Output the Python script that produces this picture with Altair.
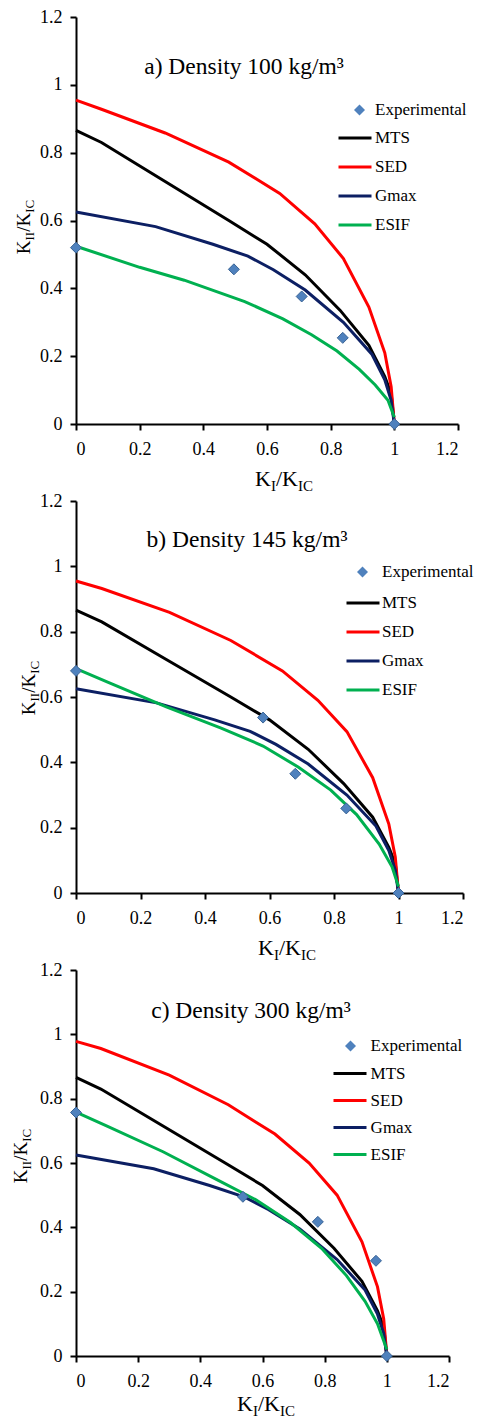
import altair as alt
import pandas as pd

FONT = "Liberation Serif"
TICKS = [0, 0.2, 0.4, 0.6, 0.8, 1, 1.2]
SERIES = ["MTS", "SED", "Gmax", "ESIF"]
COLORS = ["#000000", "#FF0000", "#0C1F63", "#00B050"]
EXP_LABEL = "Experimental"
TITLES = ["a) Density 100 kg/m³", "b) Density 145 kg/m³", "c) Density 300 kg/m³"]

# --- theoretical curves ---
MTS_X = [0, 0.08, 0.28, 0.48, 0.6, 0.72, 0.83, 0.92, 0.97, 0.99, 1]
MTS_Y = [0.866, 0.83, 0.715, 0.6, 0.53, 0.44, 0.335, 0.232, 0.14, 0.09, 0.0]

GMAX_X = [0, 0.25, 0.43, 0.54, 0.62, 0.72, 0.84, 0.93, 0.97, 0.99, 1]
GMAX_Y = [0.625, 0.582, 0.53, 0.495, 0.455, 0.395, 0.3, 0.205, 0.13, 0.07, 0.0]

SED_A_X = [0, 0.08, 0.28, 0.48, 0.64, 0.75, 0.84, 0.92, 0.97, 0.99, 1]
SED_A_Y = [0.955, 0.928, 0.858, 0.772, 0.68, 0.59, 0.488, 0.345, 0.21, 0.11, 0.0]
SED_B_X = [0, 0.08, 0.29, 0.48, 0.64, 0.75, 0.84, 0.92, 0.97, 0.99, 1]
SED_B_Y = [0.955, 0.932, 0.859, 0.773, 0.68, 0.59, 0.494, 0.353, 0.211, 0.11, 0.0]
SED_C_X = [0, 0.08, 0.3, 0.49, 0.64, 0.75, 0.84, 0.92, 0.97, 0.99, 1]
SED_C_Y = [0.978, 0.956, 0.873, 0.781, 0.69, 0.6, 0.5, 0.355, 0.215, 0.115, 0.0]

ESIF_A_X = [0, 0.2, 0.34, 0.53, 0.65, 0.74, 0.82, 0.89, 0.94, 0.98, 1]
ESIF_A_Y = [0.524, 0.462, 0.424, 0.361, 0.31, 0.263, 0.215, 0.161, 0.115, 0.07, 0.02]
ESIF_B_X = [0, 0.1, 0.28, 0.45, 0.58, 0.69, 0.79, 0.87, 0.94, 0.98, 1]
ESIF_B_Y = [0.687, 0.645, 0.57, 0.505, 0.45, 0.385, 0.315, 0.24, 0.15, 0.08, 0.02]
ESIF_C_X = [0, 0.1, 0.28, 0.45, 0.58, 0.69, 0.79, 0.87, 0.93, 0.97, 1]
ESIF_C_Y = [0.758, 0.715, 0.635, 0.55, 0.485, 0.415, 0.335, 0.25, 0.17, 0.1, 0.02]

# --- experimental points ---
EXP_A_X = [0, 0.496, 0.709, 0.838, 1]
EXP_A_Y = [0.52, 0.456, 0.376, 0.254, 0]
EXP_B_X = [0, 0.58, 0.68, 0.838, 1]
EXP_B_Y = [0.68, 0.537, 0.365, 0.259, 0]
EXP_C_X = [0, 0.537, 0.778, 0.965, 1]
EXP_C_Y = [0.757, 0.495, 0.417, 0.296, 0]

CURVES = [
    {"MTS": (MTS_X, MTS_Y), "SED": (SED_A_X, SED_A_Y), "Gmax": (GMAX_X, GMAX_Y), "ESIF": (ESIF_A_X, ESIF_A_Y)},
    {"MTS": (MTS_X, MTS_Y), "SED": (SED_B_X, SED_B_Y), "Gmax": (GMAX_X, GMAX_Y), "ESIF": (ESIF_B_X, ESIF_B_Y)},
    {"MTS": (MTS_X, MTS_Y), "SED": (SED_C_X, SED_C_Y), "Gmax": (GMAX_X, GMAX_Y), "ESIF": (ESIF_C_X, ESIF_C_Y)},
]
EXPS = [(EXP_A_X, EXP_A_Y), (EXP_B_X, EXP_B_Y), (EXP_C_X, EXP_C_Y)]

LEG_FS = 17

# layout per panel (pixels)
LAYOUT = [
    dict(w=382, h=407, tx=168, ty=50, llx=261, lly=106.5, lloff=2, lpx=275, lpy=78.5, loff=7, clip=29,
         xtx=208, xty=62, ytx=-46, yty=210),
    dict(w=387, h=392, tx=171, ty=39, llx=269, lly=87.5, lloff=1, lpx=278, lpy=56.5, loff=11, clip=29,
         xtx=211, xty=62, ytx=-41, yty=187),
    dict(w=373, h=386, tx=175, ty=41, llx=256, lly=90, lloff=2.6, lpx=266, lpy=62.5, loff=11.6, clip=27,
         xtx=190, xty=55, ytx=-49, yty=186),
]


def text_piece(txt, x, y, size, dx=0, dy=0, angle=0, align="left", baseline="alphabetic"):
    kw = dict(font=FONT, fontSize=size, color="black", align=align, baseline=baseline, dx=dx, dy=dy)
    if angle:
        kw["angle"] = angle
    return alt.Chart(pd.DataFrame({"t": [txt]})).mark_text(**kw).encode(
        text="t:N", x=alt.value(x), y=alt.value(y)
    )


def x_title(cx, y):
    # K_I / K_IC
    big, small = 22, 15
    pieces = [("K", big, 0, 0), ("I", small, 15.9, 5), ("/K", big, 20.9, 0), ("IC", small, 42.9, 5)]
    start = cx - 29
    return [text_piece(t, start, y, s, dx=dx, dy=dy) for t, s, dx, dy in pieces]


def y_title(x, cy):
    # K_II / K_IC rotated
    big, small = 19, 13
    pieces = [("K", big, 0, 0), ("II", small, 13.7, 4), ("/K", big, 22.4, 0), ("IC", small, 41.4, 4)]
    start = cy + 27.2
    return [text_piece(t, x, start, s, dx=dx, dy=dy, angle=270) for t, s, dx, dy in pieces]


def panel(i):
    L = LAYOUT[i]
    rows = []
    for name in SERIES:
        xs, ys = CURVES[i][name]
        for k, (xv, yv) in enumerate(zip(xs, ys)):
            rows.append({"series": name, "x": xv, "y": yv, "i": k})
    df_lines = pd.DataFrame(rows)
    ex, ey = EXPS[i]
    df_pts = pd.DataFrame({"series": [EXP_LABEL] * len(ex), "x": ex, "y": ey})

    xenc = alt.X("x:Q", scale=alt.Scale(domain=[0, 1.2], nice=False),
                 axis=alt.Axis(values=TICKS, format=".1~f", title=None))
    yenc = alt.Y("y:Q", scale=alt.Scale(domain=[0, 1.2], nice=False),
                 axis=alt.Axis(values=TICKS, format=".1~f", title=None))

    lines = alt.Chart(df_lines).mark_line(strokeWidth=3, clip=False).encode(
        x=xenc, y=yenc,
        color=alt.Color("series:N", scale=alt.Scale(domain=SERIES, range=COLORS),
                        legend=alt.Legend(title=None, orient="none", legendX=L["llx"], legendY=L["lly"],
                                          symbolType="stroke", symbolSize=1089, symbolStrokeWidth=3,
                                          labelFont=FONT, labelFontSize=LEG_FS, labelColor="black",
                                          labelOffset=L["lloff"], rowPadding=0, clipHeight=L["clip"],
                                          padding=0)),
        detail="series:N",
        order=alt.Order("i:Q"),
    )
    pts = alt.Chart(df_pts).mark_point(shape="diamond", filled=True, size=121, fill="#4F81BD",
                                       stroke="#3A6496", strokeWidth=1, opacity=1, clip=False).encode(
        x="x:Q", y="y:Q",
        shape=alt.Shape("series:N", scale=alt.Scale(domain=[EXP_LABEL], range=["diamond"]),
                        legend=alt.Legend(title=None, orient="none", legendX=L["lpx"], legendY=L["lpy"],
                                          symbolSize=121, symbolFillColor="#4F81BD", symbolStrokeColor="#3A6496",
                                          symbolStrokeWidth=1, labelFont=FONT, labelFontSize=LEG_FS,
                                          labelColor="black", labelOffset=L["loff"], rowPadding=0,
                                          clipHeight=L["clip"], padding=0)),
    )
    title = text_piece(TITLES[i], L["tx"], L["ty"], 23.5, align="center", baseline="middle")
    layers = [lines, pts, title] + x_title(L["xtx"], L["h"] + L["xty"]) + y_title(L["ytx"], L["yty"])
    return alt.layer(*layers).properties(width=L["w"], height=L["h"])


chart = alt.concat(panel(0), panel(1), panel(2), columns=1, align="none", spacing=-2).resolve_scale(
    color="independent", shape="independent"
).resolve_legend(color="independent", shape="independent").configure(
    padding={"left": 4, "top": 0, "right": 0, "bottom": 0},
).configure_view(stroke=None).configure_axis(
    grid=False, domainColor="black", domainWidth=2, tickColor="black", tickWidth=2, tickSize=6,
    labelFont=FONT, labelFontSize=18, labelColor="black",
).configure_axisX(labelPadding=10).configure_axisY(labelPadding=8)

chart.save("out.html", embed_options={"renderer": "svg", "actions": False})
